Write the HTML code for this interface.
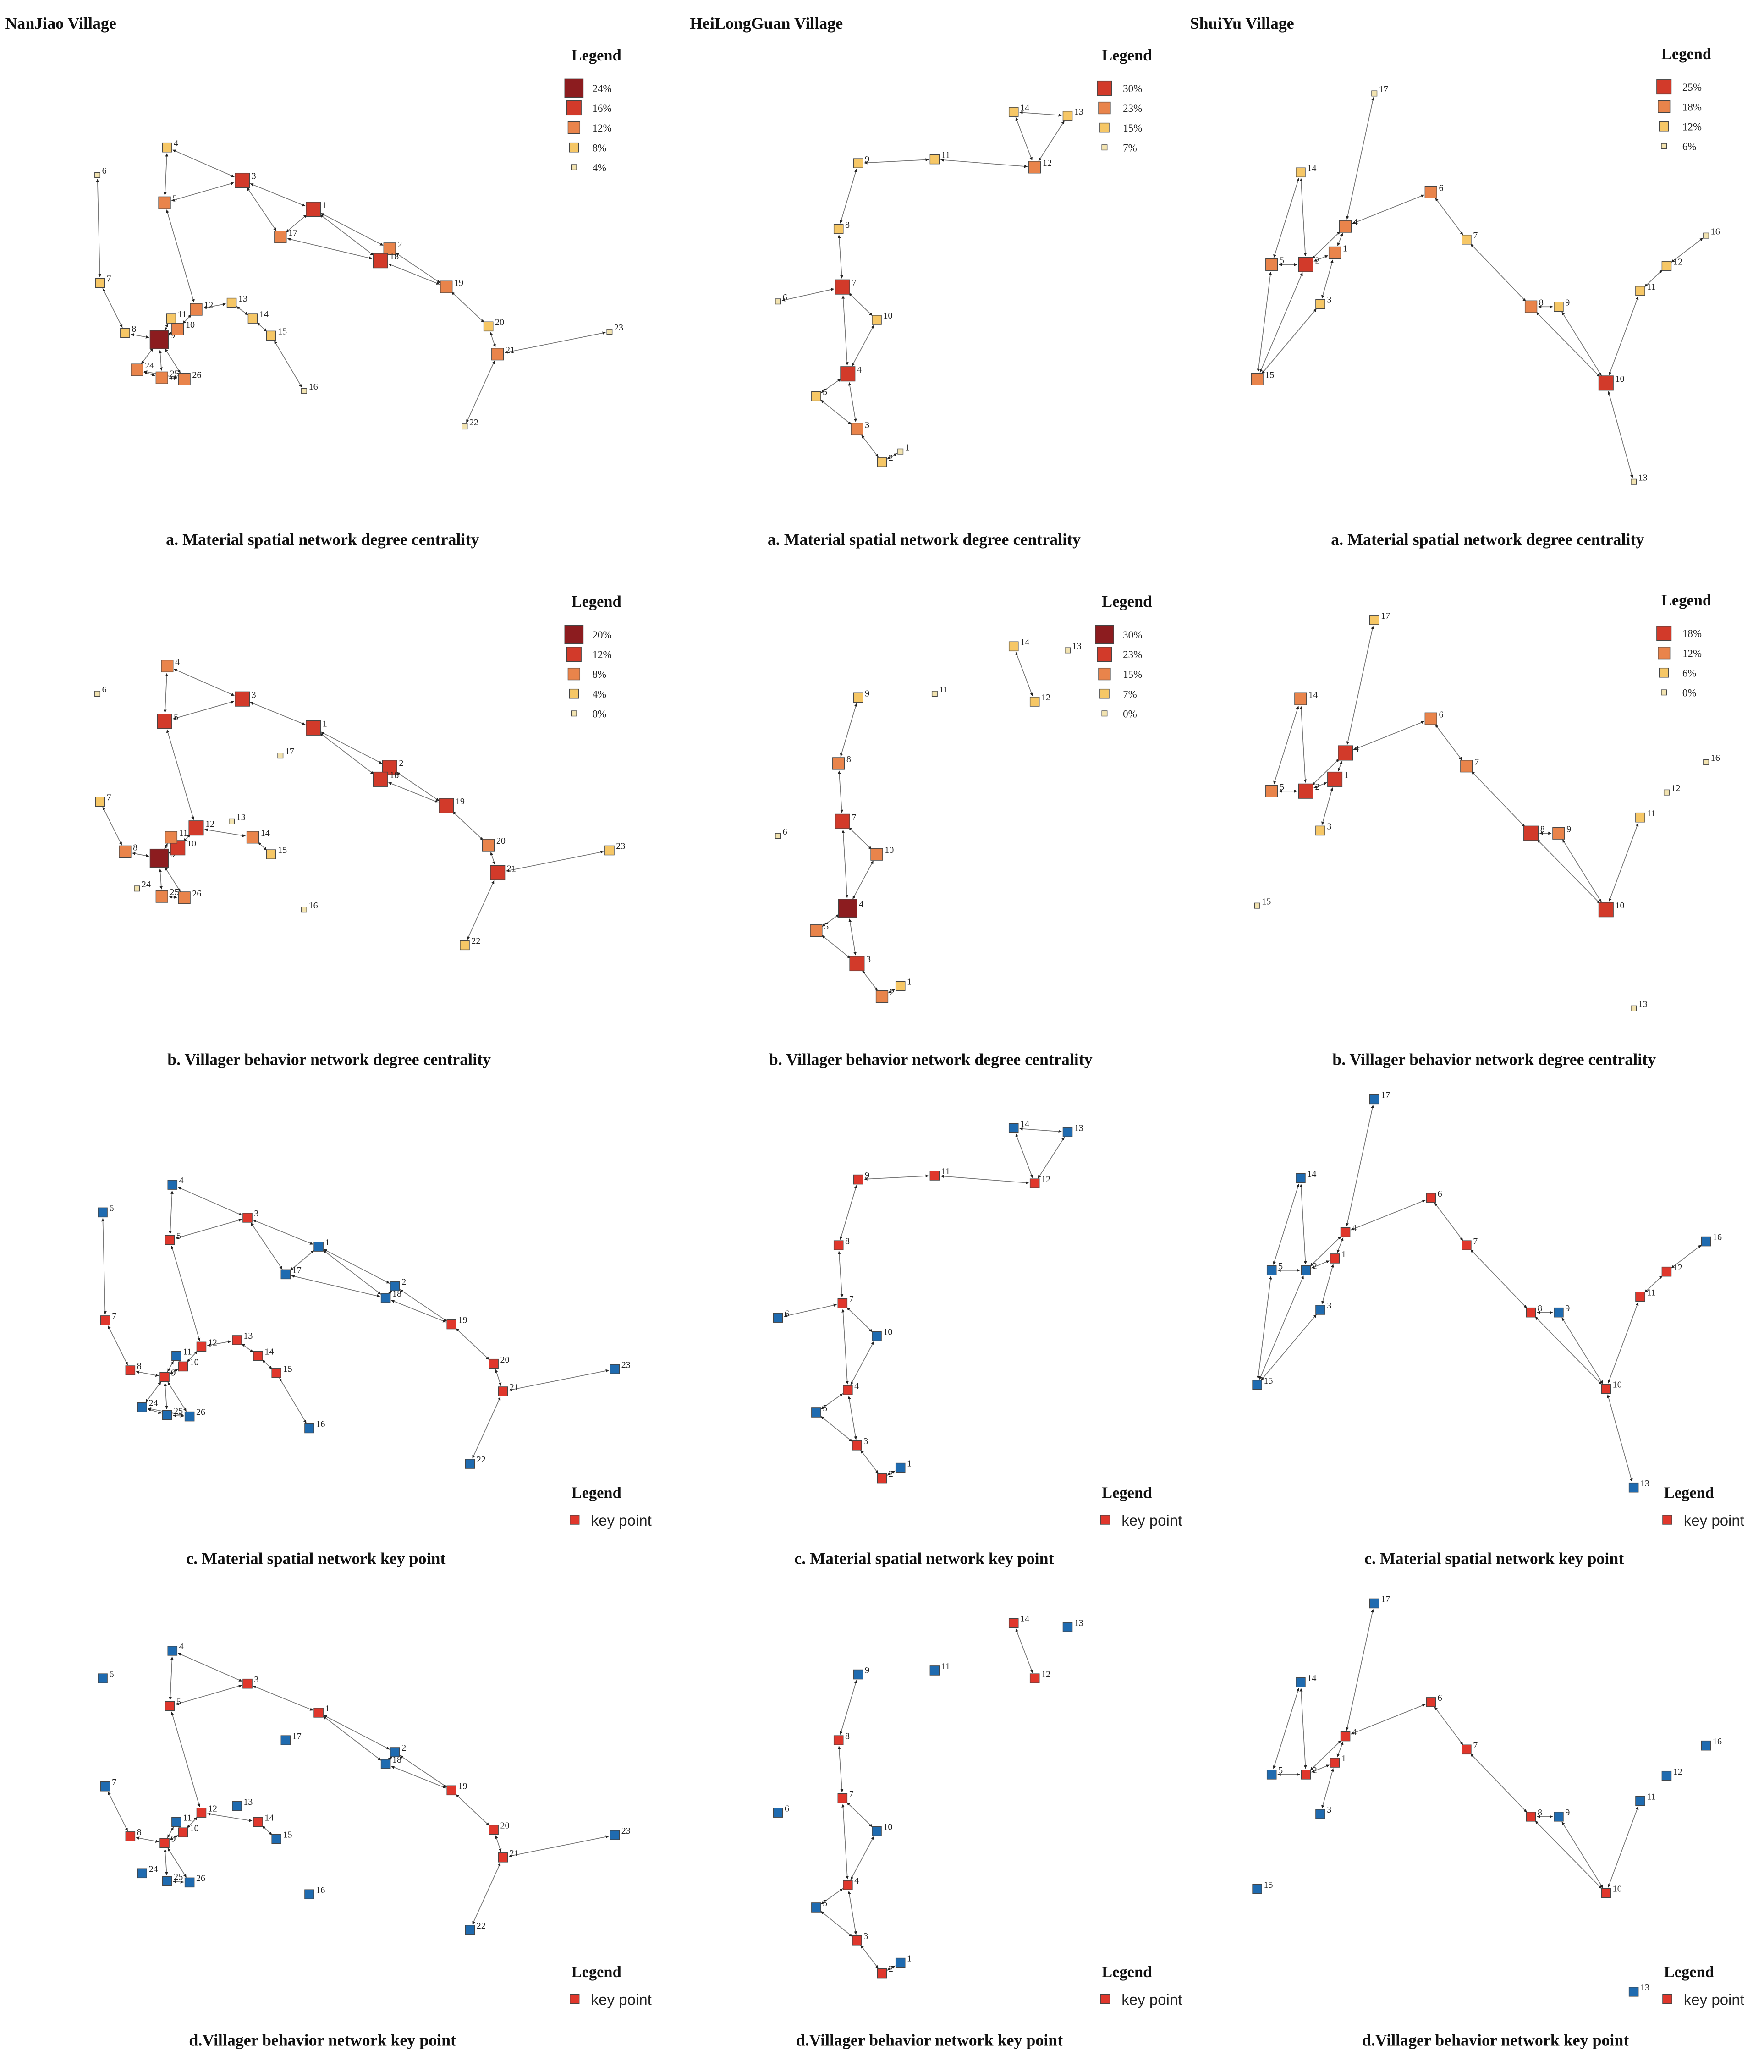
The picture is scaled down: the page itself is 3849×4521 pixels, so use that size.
<!DOCTYPE html>
<html><head><meta charset="utf-8">
<style>
html,body{margin:0;padding:0;background:#fff;}
svg{display:block;font-family:"Liberation Serif",serif;}
</style></head>
<body>
<svg id="fig" width="3849" height="4521" viewBox="0 0 1340 1574" preserveAspectRatio="none" xmlns="http://www.w3.org/2000/svg">
<defs>
<marker id="arr" viewBox="0 0 10 10" refX="10" refY="5" markerWidth="4" markerHeight="4" orient="auto-start-reverse"><path d="M0,0L10,5L0,10z" fill="#222"/></marker>
</defs>
<g id="root"></g>
</svg>
<script>
// ---------- Data ----------
const njNodes = {1:[238,159],2:[296,189],3:[184,137],4:[127,112],5:[125,154],6:[74,133],7:[76,215],8:[95,253],9:[121,258],10:[135,250],11:[130,242],12:[149,235],13:[176,230],14:[192,242],15:[206,255],16:[231,297],17:[213,180],18:[289,198],19:[339,218],20:[371,248],21:[378,269],22:[353,324],23:[463,252],24:[104,281],25:[123,287],26:[140,288]};
const njEdgesA = [[4,3],[4,5],[3,5],[3,1],[3,17],[1,17],[1,2],[1,18],[17,18],[2,18],[2,19],[18,19],[19,20],[20,21],[21,23],[21,22],[6,7],[7,8],[8,9],[5,12],[12,10],[12,13],[13,14],[14,15],[15,16],[11,9],[10,9],[9,24],[9,25],[9,26],[24,25],[24,26],[25,26],[11,10]];
const njEdgesB = [[4,3],[4,5],[3,5],[3,1],[1,18],[1,2],[2,18],[2,19],[18,19],[19,20],[20,21],[21,23],[21,22],[7,8],[8,9],[5,12],[12,10],[12,14],[14,15],[9,11],[9,10],[9,25],[9,26],[25,26],[11,10]];
const njLevelA = {9:0,3:1,1:1,18:1,5:2,17:2,2:2,19:2,21:2,12:2,10:2,24:2,25:2,26:2,4:3,7:3,8:3,11:3,13:3,14:3,15:3,20:3,6:4,16:4,22:4,23:4};
const njLevelB = {9:0,5:1,3:1,1:1,12:1,10:1,18:1,2:1,19:1,21:1,4:2,11:2,8:2,14:2,20:2,25:2,26:2,7:3,15:3,23:3,22:3,6:4,17:4,13:4,24:4,16:4};
const njKeyC = [3,5,7,8,9,10,12,13,14,15,19,20,21];
const njKeyD = [1,3,5,8,9,10,12,14,19,20,21];

const hlNodes = {1:[684,343],2:[670,351],3:[651,326],4:[644,284],5:[620,301],6:[591,229],7:[640,218],8:[637,174],9:[652,124],10:[666,243],11:[710,121],12:[786,127],13:[811,88],14:[770,85]};
const hlEdgesA = [[1,2],[2,3],[3,5],[3,4],[4,5],[4,7],[4,10],[7,10],[7,6],[7,8],[8,9],[9,11],[11,12],[12,13],[12,14],[13,14]];
const hlEdgesB = [[1,2],[2,3],[3,5],[3,4],[4,5],[4,7],[4,10],[7,10],[7,8],[8,9],[14,12]];
const hlLevelA = {4:1,7:1,12:2,3:2,14:3,13:3,9:3,11:3,8:3,10:3,5:3,2:3,1:4,6:4};
const hlLevelB = {4:0,7:1,3:1,8:2,10:2,5:2,2:2,9:3,14:3,12:3,1:3,6:4,11:4,13:4};
const hlKeyC = [2,3,4,7,8,9,11,12];
const hlKeyD = [2,3,4,7,8,12,14];

const syNodes = {1:[1014,192],2:[992,201],3:[1003,231],4:[1022,172],5:[966,201],6:[1087,146],7:[1114,182],8:[1163,233],9:[1184,233],10:[1220,291],11:[1246,221],12:[1266,202],13:[1241,366],14:[988,131],15:[955,288],16:[1296,179],17:[1044,71]};
const syEdgesA = [[14,2],[14,5],[2,5],[2,1],[1,4],[4,2],[4,17],[4,6],[6,7],[7,8],[8,9],[8,10],[9,10],[10,11],[11,12],[12,16],[10,13],[15,5],[15,2],[15,3],[3,1]];
const syEdgesB = [[14,2],[14,5],[2,5],[2,1],[1,4],[4,2],[4,17],[4,6],[6,7],[7,8],[8,9],[8,10],[9,10],[10,11],[1,3]];
const syLevelA = {2:1,10:1,5:2,1:2,4:2,8:2,15:2,6:2,7:3,9:3,11:3,12:3,14:3,3:3,17:4,16:4,13:4};
const syLevelB = {2:1,1:1,4:1,8:1,10:1,14:2,5:2,6:2,7:2,9:2,17:3,3:3,11:3,12:4,16:4,15:4,13:4};
const syKeyC = [1,4,6,7,8,10,11,12];
const syKeyD = [1,2,4,6,7,8,10];

const legA_NJ = ["24%","16%","12%","8%","4%"];
const legB_NJ = ["20%","12%","8%","4%","0%"];
const legA_HL = ["30%","23%","15%","7%"];
const legB_HL = ["30%","23%","15%","7%","0%"];
const legA_SY = ["25%","18%","12%","6%"];
const legB_SY = ["18%","12%","6%","0%"];
const captions = ["a. Material spatial network degree centrality","b. Villager behavior network degree centrality","c. Material spatial network key point","d.Villager behavior network key point"];

// ---------- Styles ----------
const lvlColor = ["#8c1c1f","#d23a2a","#e9844b","#f6c766","#f2e3b0"];
const lvlSize = [14,11,9,7,4];
const legColorHL = ["#d23a2a","#e9844b","#f6c766","#f2e3b0"];
const NS = "http://www.w3.org/2000/svg";
const root = document.getElementById('root');
function mk(tag, attrs, parent){const e=document.createElementNS(NS,tag);for(const k in attrs)e.setAttribute(k,attrs[k]);(parent||root).appendChild(e);return e;}
function txt(x,y,s,size,weight,anchor){const t=mk('text',{x:x,y:y,'font-size':size,'font-weight':weight||'normal','text-anchor':anchor||'start',fill:'#111'});t.textContent=s;return t;}

function drawNet(nodes, edges, dx, dy, styleFn, name){
  const g=mk('g',{});
  
  
  edges.forEach(e=>{
    const a=nodes[e[0]],b=nodes[e[1]];
    const x1=a[0]+dx,y1=a[1]+dy,x2=b[0]+dx,y2=b[1]+dy;
    const L=Math.hypot(x2-x1,y2-y1)||1, ux=(x2-x1)/L, uy=(y2-y1)/L;
    const sa=styleFn(e[0]).s/2+1, sb=styleFn(e[1]).s/2+1;
    const l=mk('line',{x1:x1+ux*sa,y1:y1+uy*sa,x2:x2-ux*sb,y2:y2-uy*sb,stroke:'#777','stroke-width':0.6,'marker-end':'url(#arr)','marker-start':'url(#arr)'},g);
    
    
  });
  Object.keys(nodes).forEach(k=>{
    const p=nodes[k], st=styleFn(+k), x=p[0]+dx, y=p[1]+dy;
    const r=mk('rect',{x:x-st.s/2,y:y-st.s/2,width:st.s,height:st.s,fill:st.c,stroke:'#444','stroke-width':0.5},g);
    
    
    const t=mk('text',{x:x+st.s/2+1.5,y:y-1,'font-size':7,fill:'#222'},g);
    t.textContent=k;
    
    
  });
}
const lvlStyle = lv => (id => ({c:lvlColor[lv[id]], s:lvlSize[lv[id]]}));
const lvlStyleHL = lv => (id => ({c:lv[id]===0?lvlColor[0]:legColorHL[lv[id]-1], s:lvlSize[lv[id]]}));
const keyStyle = keys => (id => ({c:keys.includes(id)?'#e0372c':'#1f6bb0', s:7}));

function degLegend(x,y,labels,colors,sizes,name){
  const g=mk('g',{});
  
  
  const h=mk('text',{x:x,y:y,'font-size':12,'font-weight':'bold',fill:'#111'},g);h.textContent='Legend';
  labels.forEach((lab,i)=>{
    const yy=y+21+i*15, s=sizes[i];
    const r=mk('rect',{x:x+2-s/2,y:yy-s/2,width:s,height:s,fill:colors[i],stroke:'#444','stroke-width':0.5},g);
    
    
    const t=mk('text',{x:x+16,y:yy+3,'font-size':8,fill:'#222'},g);t.textContent=lab;
    
    
  });
}
function keyLegend(x,y,name){
  const g=mk('g',{});
  
  
  const h=mk('text',{x:x,y:y,'font-size':12,'font-weight':'bold',fill:'#111'},g);h.textContent='Legend';
  mk('rect',{x:x-1,y:y+13,width:7,height:7,fill:'#e0372c',stroke:'#444','stroke-width':0.4},g);
  const t=mk('text',{x:x+15,y:y+21,'font-size':11.5,'font-family':'Liberation Sans, sans-serif',fill:'#222'},g);t.textContent='key point';
}

// Titles
[["NanJiao Village",4],["HeiLongGuan Village",524],["ShuiYu Village",904]].forEach(v=>{
  const t=txt(v[1],22,v[0],12.5,'bold');
  
  
});

// NanJiao
drawNet(njNodes,njEdgesA,0,0,lvlStyle(njLevelA),'nanjiao-a');
drawNet(njNodes,njEdgesB,0,394,lvlStyle(njLevelB),'nanjiao-b');
drawNet(njNodes,njEdgesA,4,788,keyStyle(njKeyC),'nanjiao-c');
drawNet(njNodes,njEdgesB,4,1142,keyStyle(njKeyD),'nanjiao-d');
degLegend(434,46,legA_NJ,lvlColor,lvlSize,'nanjiao-legend-a');
degLegend(434,461,legB_NJ,lvlColor,lvlSize,'nanjiao-legend-b');
keyLegend(434,1138,'nanjiao-legend-c');
keyLegend(434,1502,'nanjiao-legend-d');

// HeiLongGuan
drawNet(hlNodes,hlEdgesA,0,0,lvlStyleHL(hlLevelA),'heilongguan-a');
drawNet(hlNodes,hlEdgesB,0,406,lvlStyleHL(hlLevelB),'heilongguan-b');
drawNet(hlNodes,hlEdgesA,0,772,keyStyle(hlKeyC),'heilongguan-c');
drawNet(hlNodes,hlEdgesB,0,1148,keyStyle(hlKeyD),'heilongguan-d');
degLegend(837,46,legA_HL,legColorHL,[11,9,7,4],'heilongguan-legend-a');
degLegend(837,461,legB_HL,lvlColor,lvlSize,'heilongguan-legend-b');
keyLegend(837,1138,'heilongguan-legend-c');
keyLegend(837,1502,'heilongguan-legend-d');

// ShuiYu
drawNet(syNodes,syEdgesA,0,0,lvlStyleHL(syLevelA),'shuiyu-a');
drawNet(syNodes,syEdgesB,0,400,lvlStyleHL(syLevelB),'shuiyu-b');
drawNet(syNodes,syEdgesA,0,764,keyStyle(syKeyC),'shuiyu-c');
drawNet(syNodes,syEdgesB,0,1147,keyStyle(syKeyD),'shuiyu-d');
degLegend(1262,45,legA_SY,legColorHL,[11,9,7,4],'shuiyu-legend-a');
degLegend(1262,460,legB_SY,legColorHL,[11,9,7,4],'shuiyu-legend-b');
keyLegend(1264,1138,'shuiyu-legend-c');
keyLegend(1264,1502,'shuiyu-legend-d');

// Captions
const capY=[414,809,1188,1554];
const capX=[[245,702,1130],[250,707,1135],[240,702,1135],[245,706,1136]];
capY.forEach((y,r)=>capX[r].forEach(x=>{
  const t=txt(x,y,captions[r],12.5,'bold','middle');
  
  
}));
</script>
</body></html>
